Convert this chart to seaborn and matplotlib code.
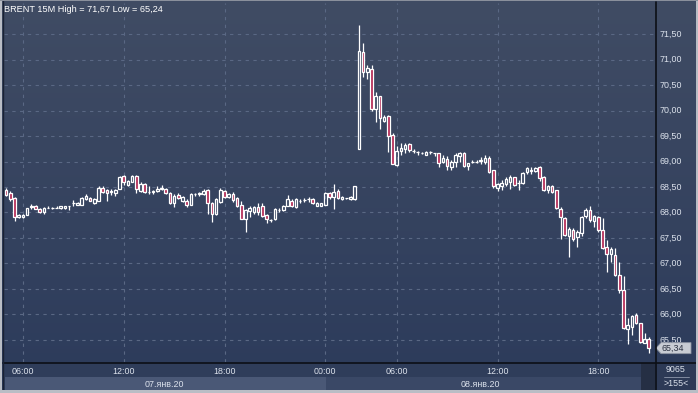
import numpy as np
import matplotlib
matplotlib.use("Agg")
import matplotlib.pyplot as plt
from matplotlib.patches import Rectangle, Polygon
from matplotlib.lines import Line2D
import seaborn as sns

# 15-minute Brent candles, bar index 0..153
opens = [68.44, 68.38, 68.28, 67.92, 67.92, 67.96, 68.10, 68.13, 68.06, 68.00,
         68.09, 68.08, 68.09, 68.08, 68.08, 68.12, 68.18, 68.15, 68.15, 68.26,
         68.29, 68.19, 68.23, 68.49, 68.44, 68.41, 68.38, 68.47, 68.72, 68.54,
         68.60, 68.72, 68.43, 68.56, 68.41, 68.40, 68.43, 68.46, 68.47, 68.39,
         68.19, 68.34, 68.23, 68.23, 68.15, 68.36, 68.37, 68.36, 68.44, 68.19,
         67.98, 68.21, 68.43, 68.30, 68.37, 68.28, 68.14, 67.88, 68.02, 68.00,
         68.11, 68.13, 67.95, 67.85, 67.87, 68.05, 68.04, 68.13, 68.23, 68.10,
         68.22, 68.24, 68.26, 68.26, 68.13, 68.13, 68.15, 68.39, 68.30, 68.43,
         68.26, 68.28, 68.26, 68.26, 69.24, 71.14, 70.76, 70.81, 70.02, 70.29,
         69.80, 69.89, 69.52, 68.93, 69.21, 69.24, 69.34, 69.21, 69.18, 69.16,
         69.13, 69.18, 69.16, 69.16, 68.99, 69.04, 68.90, 68.99, 69.10, 69.17,
         68.91, 68.99, 69.00, 69.01, 68.99, 69.06, 68.83, 68.49, 68.51, 68.56,
         68.60, 68.69, 68.57, 68.57, 68.79, 68.82, 68.82, 68.90, 68.69, 68.44,
         68.52, 68.44, 68.06, 67.89, 67.53, 67.66, 67.51, 67.59, 67.93, 68.05,
         67.84, 67.92, 67.66, 67.33, 67.19, 67.17, 66.77, 66.48, 65.71, 65.76,
         65.99, 65.83, 65.45, 65.51]
highs = [68.49, 68.43, 68.30, 67.98, 67.98, 68.09, 68.16, 68.15, 68.08, 68.10,
         68.13, 68.10, 68.12, 68.13, 68.13, 68.13, 68.25, 68.20, 68.30, 68.36,
         68.30, 68.29, 68.51, 68.52, 68.47, 68.47, 68.47, 68.72, 68.74, 68.63,
         68.74, 68.74, 68.60, 68.58, 68.52, 68.44, 68.51, 68.54, 68.49, 68.41,
         68.36, 68.38, 68.33, 68.26, 68.38, 68.39, 68.41, 68.47, 68.46, 68.21,
         68.28, 68.49, 68.45, 68.38, 68.41, 68.30, 68.23, 68.06, 68.13, 68.13,
         68.18, 68.18, 67.97, 67.88, 68.08, 68.08, 68.15, 68.34, 68.26, 68.28,
         68.26, 68.29, 68.30, 68.28, 68.20, 68.19, 68.41, 68.41, 68.56, 68.47,
         68.32, 68.29, 68.32, 68.52, 71.67, 71.32, 70.89, 70.89, 70.37, 70.29,
         69.91, 69.91, 69.55, 69.30, 69.37, 69.37, 69.36, 69.24, 69.21, 69.18,
         69.20, 69.21, 69.17, 69.17, 69.13, 69.11, 69.03, 69.17, 69.19, 69.19,
         68.98, 69.02, 69.02, 69.09, 69.13, 69.11, 68.84, 68.58, 68.64, 68.70,
         68.74, 68.70, 68.64, 68.80, 68.90, 68.90, 68.89, 68.91, 68.72, 68.54,
         68.54, 68.45, 68.11, 67.92, 67.72, 67.69, 67.66, 67.93, 68.08, 68.13,
         67.95, 67.93, 67.89, 67.47, 67.33, 67.30, 67.03, 66.75, 65.94, 65.99,
         66.02, 65.84, 65.64, 65.56]
lows = [68.32, 68.23, 67.84, 67.90, 67.90, 67.95, 68.06, 68.06, 67.99, 67.98,
        68.08, 68.07, 68.08, 68.07, 68.07, 68.04, 68.13, 68.14, 68.14, 68.25,
        68.22, 68.17, 68.22, 68.38, 68.23, 68.34, 68.32, 68.46, 68.54, 68.51,
        68.59, 68.39, 68.41, 68.39, 68.36, 68.36, 68.41, 68.45, 68.36, 68.16,
        68.10, 68.26, 68.21, 68.11, 68.14, 68.32, 68.32, 68.34, 67.98, 67.82,
        67.96, 68.19, 68.28, 68.28, 68.21, 68.11, 67.87, 67.62, 67.92, 67.98,
        67.95, 67.92, 67.79, 67.81, 67.85, 68.00, 68.02, 68.12, 68.10, 68.08,
        68.18, 68.20, 68.21, 68.16, 68.12, 68.12, 68.14, 68.26, 68.06, 68.26,
        68.25, 68.27, 68.25, 68.25, 69.24, 70.66, 70.61, 70.00, 69.78, 69.63,
        69.78, 69.19, 68.95, 68.91, 69.13, 69.16, 69.19, 69.16, 69.13, 69.14,
        69.12, 69.15, 69.10, 68.90, 68.97, 68.83, 68.83, 68.90, 68.99, 68.90,
        68.83, 68.97, 68.98, 68.96, 68.96, 68.78, 68.48, 68.43, 68.44, 68.51,
        68.47, 68.51, 68.44, 68.56, 68.76, 68.76, 68.80, 68.62, 68.43, 68.38,
        68.38, 68.06, 67.49, 67.53, 67.13, 67.45, 67.32, 67.54, 67.89, 67.82,
        67.72, 67.62, 67.28, 66.84, 67.02, 66.75, 66.43, 65.71, 65.43, 65.60,
        65.81, 65.45, 65.44, 65.24]
closes = [68.34, 68.26, 67.92, 67.96, 67.96, 68.08, 68.12, 68.07, 68.00, 68.08,
          68.09, 68.08, 68.09, 68.12, 68.12, 68.12, 68.18, 68.19, 68.28, 68.32,
          68.23, 68.26, 68.49, 68.41, 68.38, 68.42, 68.45, 68.70, 68.60, 68.62,
          68.72, 68.47, 68.55, 68.41, 68.41, 68.42, 68.47, 68.49, 68.38, 68.18,
          68.32, 68.28, 68.31, 68.15, 68.36, 68.37, 68.38, 68.43, 68.18, 67.98,
          68.26, 68.45, 68.31, 68.36, 68.24, 68.13, 67.88, 68.05, 68.08, 68.10,
          68.00, 67.93, 67.87, 67.85, 68.06, 68.05, 68.13, 68.26, 68.13, 68.26,
          68.23, 68.25, 68.26, 68.18, 68.18, 68.18, 68.39, 68.30, 68.41, 68.28,
          68.31, 68.28, 68.30, 68.51, 71.17, 70.75, 70.83, 70.02, 70.29, 69.85,
          69.88, 69.50, 68.96, 69.21, 69.27, 69.32, 69.23, 69.20, 69.18, 69.16,
          69.19, 69.18, 69.16, 68.98, 69.06, 68.91, 68.99, 69.13, 69.17, 68.91,
          68.98, 68.99, 69.00, 69.02, 69.06, 68.80, 68.51, 68.56, 68.58, 68.65,
          68.69, 68.54, 68.57, 68.78, 68.87, 68.83, 68.87, 68.67, 68.45, 68.52,
          68.41, 68.08, 67.91, 67.56, 67.67, 67.49, 67.62, 67.92, 68.05, 67.85,
          67.93, 67.66, 67.30, 67.19, 67.28, 66.77, 66.49, 65.73, 65.79, 65.97,
          65.84, 65.47, 65.51, 65.34]

time_ticks = [4, 28, 52, 76, 93, 117, 141]
time_labels = ["06:00", "12:00", "18:00", "00:00", "06:00", "12:00", "18:00"]
date_labels = ["07.янв.20", "08.янв.20"]
day_break = 76
price_levels = [65.5, 66.0, 66.5, 67.0, 67.5, 68.0, 68.5, 69.0, 69.5, 70.0, 70.5, 71.0, 71.5]
title = "BRENT 15M High = 71,67 Low = 65,24"
last_price = "65,34"
volume_text = "9065"
bars_text = ">155<"

sns.set_theme(style="dark")
plt.rcParams["font.family"] = ["Liberation Sans", "DejaVu Sans"]

W, H = 698, 393
fig = plt.figure(figsize=(W / 100, H / 100), dpi=100)


def fx(x):
    return x / W


def fy(y):
    return 1 - y / H


def frect(x0, y0, x1, y1, color, z=1):
    fig.patches.append(Rectangle((fx(x0), fy(y1)), fx(x1 - x0), (y1 - y0) / H,
                                 transform=fig.transFigure, facecolor=color,
                                 edgecolor="none", zorder=z))


# gradient background
bg = fig.add_axes([0, 0, 1, 1], zorder=0)
grad = np.linspace(0, 1, 256).reshape(-1, 1)
cmap = matplotlib.colors.LinearSegmentedColormap.from_list("bg", ["#404c64", "#2c3b5b"])
bg.imshow(grad, aspect="auto", cmap=cmap, extent=[0, 1, 0, 1], origin="upper")
bg.set_axis_off()

# price panel
x_left, x_right, y_top, y_bot = 4, 655, 3, 362
px_per_unit = 51.0
y_max = 71.5 + (34 - y_top) / px_per_unit
y_min = 71.5 - (y_bot - 34) / px_per_unit

ax = fig.add_axes([fx(x_left), fy(y_bot), fx(x_right - x_left), (y_bot - y_top) / H], zorder=2)
ax.set_facecolor("none")
ax.set_xlim(-0.5, 154.5)
ax.set_ylim(y_min, y_max)
for s in ax.spines.values():
    s.set_visible(False)
ax.set_xticks([])
ax.set_yticks([])

grid_kw = dict(color="#5a6884", lw=0.8, ls=(0, (3, 4)), zorder=1)
for p in price_levels:
    ax.axhline(p, **grid_kw)
for t in time_ticks:
    ax.axvline(t, **grid_kw)

o = np.array(opens)
h = np.array(highs)
l = np.array(lows)
c = np.array(closes)
idx = np.arange(len(o))
top = np.maximum(o, c)
bot = np.minimum(o, c)
face = ["#b42a55" if cc < oo else "none" for oo, cc in zip(o, c)]

ax.vlines(idx, top, h, color="white", lw=0.9, zorder=3)
ax.vlines(idx, l, bot, color="white", lw=0.9, zorder=3)
ax.bar(idx, top - bot, bottom=bot, width=0.62, color=face, edgecolor="white",
       linewidth=0.9, zorder=4)

ax.text(0.0, 1 - (9 - y_top) / (y_bot - y_top), title, transform=ax.transAxes,
        color="white", fontsize=6.6, va="center", ha="left", zorder=6)

# right price scale
txt_col = "#dce2ec"
for p in price_levels:
    ypix = 34 + (71.5 - p) * px_per_unit
    fig.text(fx(660), fy(ypix), f"{p:.2f}".replace(".", ","), color=txt_col,
             fontsize=6.4, va="center", ha="left", zorder=5)

# last price tag
yp = 34 + (71.5 - 65.34) * px_per_unit
tag = Polygon([(fx(656), fy(yp)), (fx(661), fy(yp - 5.5)), (fx(691), fy(yp - 5.5)),
               (fx(691), fy(yp + 5.5)), (fx(661), fy(yp + 5.5))],
              closed=True, transform=fig.transFigure, facecolor="#c8ccd3",
              edgecolor="#8d94a2", lw=0.6, zorder=6)
fig.patches.append(tag)
fig.text(fx(662), fy(yp), last_price, color="#2a3040", fontsize=6.4,
         va="center", ha="left", zorder=7)

# time panel
frect(3, 363, 655, 377, "#2f3d5a", z=1)
frect(5, 377, 326, 390, "#4a5876", z=1)
frect(326, 377, 641, 390, "#3a4866", z=1)
frect(641, 363, 655, 390, "#252f44", z=1)
frect(656, 363, 697, 390, "#2d3a56", z=1)

tx = fig.add_axes([fx(x_left), fy(390), fx(x_right - x_left), 27 / H], zorder=3)
tx.set_facecolor("none")
tx.set_xlim(-0.5, 154.5)
tx.set_ylim(0, 1)
tx.set_axis_off()
for t, lab in zip(time_ticks, time_labels):
    tx.text(t, 0.68, lab, color=txt_col, fontsize=6.4, ha="center", va="center")
tx.text((day_break - 0.5) / 2, 0.22, date_labels[0], color=txt_col, fontsize=6.4,
        ha="center", va="center")
tx.text((day_break + 150) / 2, 0.22, date_labels[1], color=txt_col, fontsize=6.4,
        ha="center", va="center")

fig.text(fx(676), fy(370), volume_text, color=txt_col, fontsize=6.4, ha="center", va="center")
fig.lines.append(Line2D([fx(664), fx(689)], [fy(377), fy(377)], transform=fig.transFigure,
                        color="#8f98ab", lw=0.6, zorder=5))
fig.text(fx(676), fy(384), bars_text, color=txt_col, fontsize=6.4, ha="center", va="center")

# separators and frame
fig.lines.append(Line2D([fx(655.5), fx(655.5)], [fy(2), fy(391)], transform=fig.transFigure,
                        color="#0c0f16", lw=1.2, zorder=8))
fig.lines.append(Line2D([fx(3), fx(697)], [fy(362.5), fy(362.5)], transform=fig.transFigure,
                        color="#0c0f16", lw=1.2, zorder=8))
fig.lines.append(Line2D([fx(2.5), fx(2.5)], [fy(1), fy(391)], transform=fig.transFigure,
                        color="#1a2234", lw=1.0, zorder=8))
frame_col = "#b9bdc5"
frect(0, 390, 698, 393, frame_col, z=9)
frect(0, 0, 2, 393, frame_col, z=9)
frect(696, 0, 698, 393, frame_col, z=9)
frect(0, 0, 698, 1, "#8a909c", z=9)

fig.savefig("out.png", dpi=100)
plt.close(fig)
